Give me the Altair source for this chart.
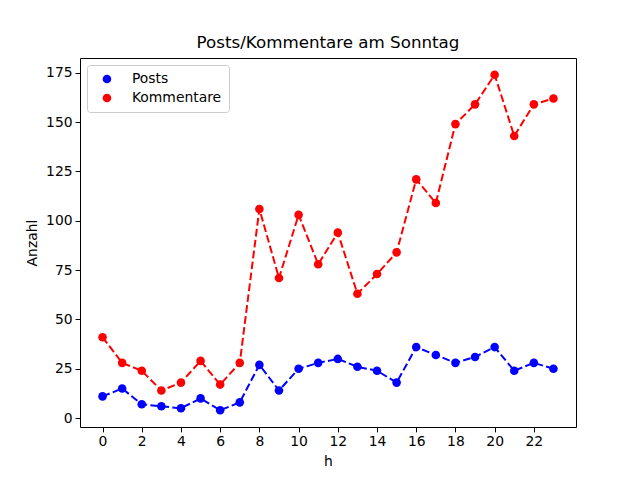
import altair as alt
import pandas as pd

hours = list(range(24))
posts = [11, 15, 7, 6, 5, 10, 4, 8, 27, 14, 25, 28, 30, 26, 24, 18, 36, 32, 28, 31, 36, 24, 28, 25]
kommentare = [41, 28, 24, 14, 18, 29, 17, 28, 106, 71, 103, 78, 94, 63, 73, 84, 121, 109, 149, 159, 174, 143, 159, 162]
series_names = ["Posts", "Kommentare"]
series_colors = ["#0000ff", "#ff0000"]
x_ticks = list(range(0, 24, 2))
y_ticks = [0, 25, 50, 75, 100, 125, 150, 175]

rows = []
for h, p, k in zip(hours, posts, kommentare):
    rows.append({"h": h, "Anzahl": p, "Serie": "Posts"})
    rows.append({"h": h, "Anzahl": k, "Serie": "Kommentare"})
df = pd.DataFrame(rows)

FONT = "DejaVu Sans"

x_enc = alt.X("h:Q", scale=alt.Scale(domain=[-1.15, 24.15], nice=False, zero=False),
              axis=alt.Axis(values=x_ticks, title="h", format="d"))
y_enc = alt.Y("Anzahl:Q", scale=alt.Scale(domain=[-4.5, 182.5], nice=False, zero=False),
              axis=alt.Axis(values=y_ticks, title="Anzahl", format="d"))

lines = []
for name, col in zip(series_names, series_colors):
    lines.append(
        alt.Chart(df).transform_filter(alt.datum.Serie == name)
        .mark_line(strokeDash=[7.7, 3.3], strokeWidth=2, color=col)
        .encode(x=x_enc, y=y_enc)
    )

points = alt.Chart(df).mark_point(filled=True, size=74, opacity=1, shape="circle").encode(
    x=x_enc, y=y_enc,
    color=alt.Color("Serie:N", sort=series_names,
                    scale=alt.Scale(domain=series_names, range=series_colors),
                    legend=alt.Legend(title=None, orient="none", legendX=7, legendY=7,
                                      symbolType="circle", symbolSize=74,
                                      labelFont=FONT, labelFontSize=13.9, labelColor="black",
                                      padding=7, symbolOffset=6, labelOffset=18,
                                      rowPadding=4, strokeColor="#cccccc", fillColor="white",
                                      cornerRadius=3, labelLimit=200)),
)

chart = alt.layer(*lines, points).properties(
    width=496, height=369,
    title=alt.TitleParams("Posts/Kommentare am Sonntag", font=FONT, fontSize=16.7,
                          fontWeight="normal", color="black", anchor="middle", offset=6),
    autosize=alt.AutoSizeParams(type="none"),
    padding={"left": 72, "top": 50, "right": 56, "bottom": 45},
).configure_view(stroke="black", strokeWidth=1).configure_axis(
    domain=False, grid=False, tickColor="black", tickSize=4.9, labelColor="black",
    labelFont=FONT, labelFontSize=13.9, titleFont=FONT, titleFontSize=13.9,
    titleFontWeight="normal", titleColor="black", labelPadding=3,
).configure_axisX(titlePadding=6).configure_axisY(titlePadding=6)

chart.save("out.html", embed_options={"renderer": "svg", "actions": False})
